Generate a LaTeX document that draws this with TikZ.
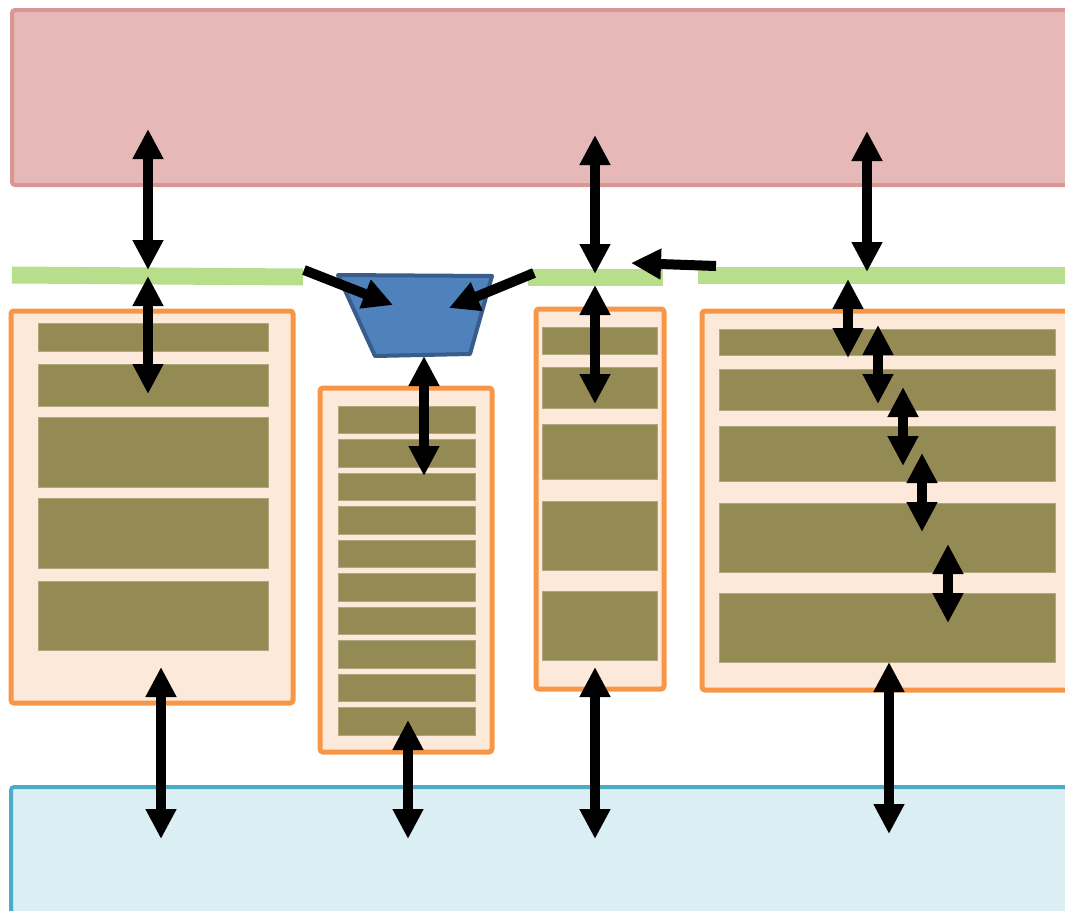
\documentclass[tikz,border=0pt]{standalone}
\usetikzlibrary{arrows.meta}
\definecolor{redfill}{RGB}{230,184,183}
\definecolor{redline}{RGB}{217,150,148}
\definecolor{bluefill}{RGB}{219,238,244}
\definecolor{blueline}{RGB}{75,172,198}
\definecolor{orfill}{RGB}{253,233,217}
\definecolor{orline}{RGB}{247,150,70}
\definecolor{olive}{RGB}{148,138,84}
\definecolor{grn}{RGB}{183,222,138}
\definecolor{trapfill}{RGB}{79,129,189}
\definecolor{trapline}{RGB}{56,93,138}
\tikzset{
  outerbox/.style={line width=4pt, rounded corners=3pt},
  redbox/.style={outerbox, fill=redfill, draw=redline},
  botbox/.style={outerbox, fill=bluefill, draw=blueline},
  orbox/.style={outerbox, line width=5pt, fill=orfill, draw=orline},
  bar/.style={fill=olive, draw=olive!75!white, line width=0.7pt},
  bus/.style={line width=17pt, draw=grn},
  dbl/.style={line width=10pt, {Triangle[width=29pt,length=30pt]}-{Triangle[width=29pt,length=30pt]}},
  sgl/.style={line width=10pt, -{Triangle[width=29pt,length=30pt]}},
}
\begin{document}
\begin{tikzpicture}[x=1pt,y=-1pt]
\useasboundingbox (0,0) rectangle (1065,910);
\clip (0,0) rectangle (1065,910);
% top and bottom
\draw[redbox] (12,10) rectangle (1080,185);
\draw[botbox] (11,787) rectangle (1080,930);
% green buses
\draw[bus] (12,275) -- (303,277);
\draw[bus] (528,277) -- (663,277);
\draw[bus] (698,275) -- (1080,275);
% trapezoid
\draw[line width=4pt, line join=round, fill=trapfill, draw=trapline]
  (338,275) -- (492,276) -- (470,354) -- (375,356) -- cycle;
% left box
\draw[orbox] (11,311) rectangle (293,703);
\foreach \a/\b in {323/351,364/406,417/487,498/568,581/650}
  \draw[bar] (38,\a) rectangle (268,\b);
% middle box
\draw[orbox] (320,388) rectangle (492,752);
\foreach \i in {0,...,9}
  \draw[bar] (338,{406+33.5*\i}) rectangle (475,{433.5+33.5*\i});
% third box
\draw[orbox] (536,309) rectangle (664,689);
\foreach \a/\b in {327/354,367/408,424/479,501/570,591/660}
  \draw[bar] (542,\a) rectangle (657,\b);
% right box
\draw[orbox] (702,311) rectangle (1080,690);
\foreach \a/\b in {329/355,369/410,426/481,503/572,593/662}
  \draw[bar] (719,\a) rectangle (1055,\b);
% coordinates
\coordinate (a1s) at (148,129); \coordinate (a1e) at (148,270);
\coordinate (a2s) at (148,276); \coordinate (a2e) at (148,394);
\coordinate (a3s) at (595,135); \coordinate (a3e) at (595,274);
\coordinate (a4s) at (595,285); \coordinate (a4e) at (595,404);
\coordinate (a5s) at (867,131); \coordinate (a5e) at (867,272);
\coordinate (a6s) at (161,667); \coordinate (a6e) at (161,839);
\coordinate (a7s) at (408,720); \coordinate (a7e) at (408,839);
\coordinate (a8s) at (595,667); \coordinate (a8e) at (595,839);
\coordinate (a9s) at (889,662); \coordinate (a9e) at (889,834);
\coordinate (a10s) at (424,356); \coordinate (a10e) at (424,476);
\coordinate (r1s) at (848,279); \coordinate (r1e) at (848,358);
\coordinate (r2s) at (878,325); \coordinate (r2e) at (878,404);
\coordinate (r3s) at (903,387); \coordinate (r3e) at (903,466);
\coordinate (r4s) at (922,453); \coordinate (r4e) at (922,532);
\coordinate (r5s) at (948,544); \coordinate (r5e) at (948,623);
\coordinate (s1s) at (304,270); \coordinate (s1e) at (393,305);
\coordinate (s2s) at (534,273); \coordinate (s2e) at (449,308);
\coordinate (s3s) at (716,266); \coordinate (s3e) at (631,263);
% arrows
\foreach \n in {a1,a2,a3,a4,a5,a6,a7,a8,a9,a10,r1,r2,r3,r4,r5}
  \draw[dbl] (\n s) -- (\n e);
\foreach \n in {s1,s2,s3}
  \draw[sgl] (\n s) -- (\n e);
\end{tikzpicture}
\end{document}
